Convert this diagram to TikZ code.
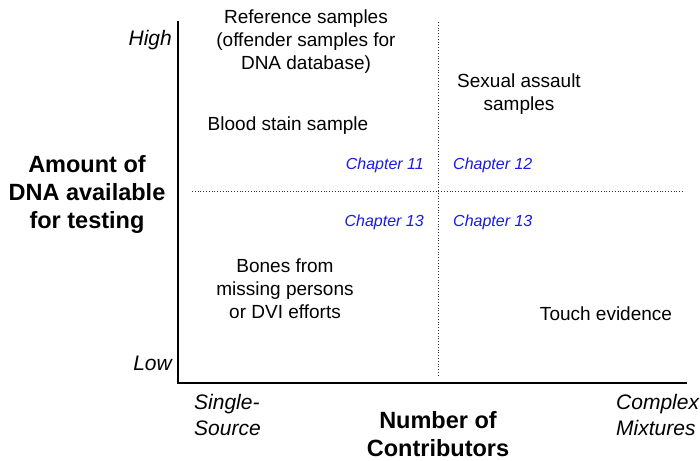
\documentclass[tikz,border=0pt]{standalone}
\usepackage{fontspec}
\setmainfont{Liberation Sans}
\usepackage{xcolor}
\usetikzlibrary{positioning}
\definecolor{chapblue}{RGB}{25,25,235}
\tikzset{
    quadchart/.style={x=1pt, y=-1pt, font=\fontsize{19}{23}\selectfont},
    axis/.style={line width=1.8pt, line cap=rect},
    divider/.style={dotted, line width=0.8pt, black!80},
    sample/.style={align=center, inner sep=0pt},
    chap/.style={font=\fontsize{16}{19}\selectfont\itshape, text=chapblue, inner sep=0pt},
    level/.style={font=\fontsize{21}{26}\selectfont\itshape, inner sep=0pt},
    % bold axis titles
    axistitle/.style={font=\fontsize{23.5}{28}\selectfont\bfseries, align=center, inner sep=0pt},
}

\begin{document}
\begin{tikzpicture}[quadchart]
    \useasboundingbox (0,0) rectangle (700,460);

    % axes
    \coordinate (top)    at (178,22);
    \coordinate (origin) at (178,383);
    \coordinate (right)  at (686,383);
    \draw[axis] (top) -- (origin) -- (right);

    % quadrant dividers
    \coordinate (vtop)   at (438,22);
    \coordinate (vbot)   at (438,375);
    \coordinate (hleft)  at (192,191);
    \coordinate (hright) at (684,191);
    \coordinate (mid)    at (438,191);
    \draw[divider] (vtop) -- (vbot);
    \draw[divider] (hleft) -- (hright);

    % samples
    \node[sample] (ref)   at (306,42)  {Reference samples\\(offender samples for\\DNA database)};
    \node[sample] (blood) at (288,126) {Blood stain sample};
    \node[sample] (sex)   at (519,94)  {Sexual assault\\samples};
    \node[sample] (bones) at (285,289) {Bones from\\missing persons\\or DVI efforts};
    \node[sample] (touch) at (606,314) {Touch evidence};

    % chapters
    \node[chap, above left=18pt and 14pt of mid]  (ch11) {Chapter 11};
    \node[chap, above right=18pt and 15pt of mid] (ch12) {Chapter 12};
    \node[chap, below left=24pt and 14pt of mid]    (ch13a) {Chapter 13};
    \node[chap, below right=24pt and 15pt of mid]   (ch13b) {Chapter 13};

    % axis labels
    \node[level, anchor=east] (high) at (172,40)  {High};
    \node[level, anchor=east] (low)  at (172,363) {Low};
    \node[level, align=left, anchor=west] (single)  at (194,415) {Single-\\Source};
    \node[level, align=left, anchor=west] (complex) at (616,415) {Complex\\Mixtures};

    \node[axistitle] (yaxis) at (87,194)  {Amount of\\DNA available\\for testing};
    \node[axistitle] (xaxis) at (438,434) {Number of\\Contributors};
\end{tikzpicture}
\end{document}
